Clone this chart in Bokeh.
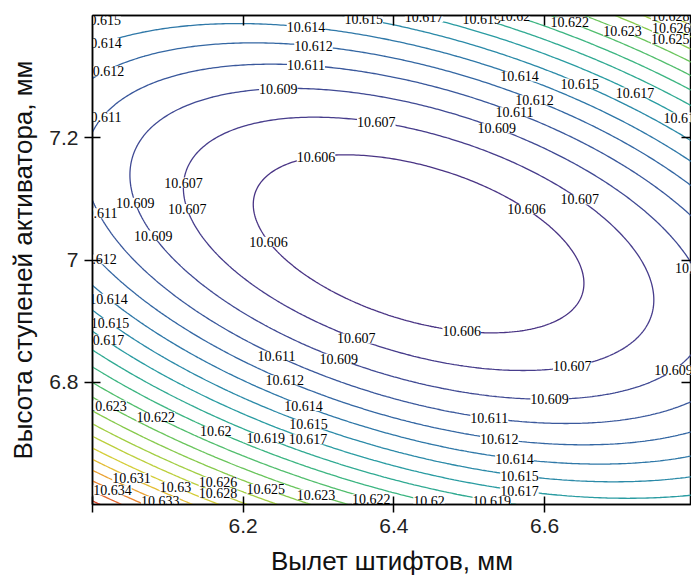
import numpy as np
import contourpy
from bokeh.plotting import figure
from bokeh.models import FixedTicker, LinearAxis, Range1d, ColumnDataSource
from bokeh.embed import file_html
from bokeh.resources import INLINE
from bokeh.core.properties import value

x_title = "Вылет штифтов, мм"
y_title = "Высота ступеней активатора, мм"
x_ticks = [6.0, 6.2, 6.4, 6.6]
y_ticks = [6.8, 7.0, 7.2]

# contour levels (value of the response)
levels = [10.6059, 10.60748, 10.60906, 10.61064, 10.61222, 10.6138, 10.61538,
          10.61696, 10.61854, 10.62012, 10.6217, 10.62328, 10.62486, 10.62644,
          10.62802, 10.6296, 10.63118, 10.63276, 10.63434, 10.63592, 10.6375, 10.63908]
palette = ["#4a3585", "#473d8c", "#404a94", "#3a589c", "#3467a3", "#2f78a8",
           "#2b8aa8", "#2a9ca2", "#30aa92", "#3bb581", "#52be6d", "#6ac55c",
           "#87ca4c", "#a2ce43", "#bccf3c", "#d4cd37", "#e3bd35", "#eaa233",
           "#e88430", "#e2632c", "#d94428", "#cc2a22"]

# contour label readings (x, y on the line, level index)
lab_x = [6.012, 6.012, 6.017, 6.285, 6.293, 6.285, 6.246, 6.015, 6.377, 6.362,
         6.442, 6.517, 6.560, 6.632, 6.701, 6.768, 6.768, 6.766, 6.566, 6.645, 6.718, 6.788, 6.585, 6.560, 6.539,
         6.297, 6.118, 6.058, 6.011, 6.125, 6.079, 6.232, 6.009, 6.023, 6.023,
         6.645, 6.574, 6.788, 6.490,
         6.636, 6.788, 6.605, 6.526, 6.540, 6.560, 6.566, 6.566, 6.446, 6.530,
         6.017, 6.351, 6.244, 6.325, 6.254, 6.021, 6.085, 6.281, 6.285, 6.164, 6.230, 6.285,
         6.052, 6.025, 6.110, 6.166, 6.166, 6.230, 6.297, 6.089, 6.371]
lab_y = [7.390, 7.354, 7.307, 7.382, 7.351, 7.322, 7.282, 7.232, 7.227, 7.400,
         7.400, 7.395, 7.397, 7.387, 7.372, 7.400, 7.379, 7.362, 7.299, 7.286, 7.273, 7.240, 7.261, 7.242, 7.217,
         7.171, 7.127, 7.095, 7.077, 7.082, 7.038, 7.028, 7.003, 6.938, 6.900,
         7.095, 7.080, 6.979, 6.886,
         6.833, 6.789, 6.776, 6.744, 6.709, 6.677, 6.651, 6.624, 6.607, 6.608,
         6.869, 6.869, 6.842, 6.835, 6.801, 6.762, 6.744, 6.760, 6.731, 6.718, 6.709, 6.706,
         6.642, 6.623, 6.629, 6.636, 6.620, 6.626, 6.616, 6.605, 6.607]
lab_k = [6, 5, 4, 5, 4, 3, 2, 3, 1, 6,
         7, 8, 9, 10, 11, 14, 13, 12, 5, 6, 7, 7, 4, 3, 2,
         0, 1, 2, 3, 1, 2, 0, 4, 5, 6,
         1, 0, 2, 0,
         1, 2, 2, 3, 4, 5, 6, 7, 9, 8,
         7, 1, 3, 2, 4, 11, 10, 5, 6, 9, 8, 7,
         16, 18, 15, 13, 14, 12, 11, 17, 10]

# second-order response surface fitted to the readings
lx = np.array(lab_x) - 6.4
ly = np.array(lab_y) - 7.0
lz = np.array([levels[k] for k in lab_k])
A = np.column_stack([np.ones_like(lx), lx, ly, lx * lx, lx * ly, ly * ly])
coef, *_ = np.linalg.lstsq(A, lz, rcond=None)

gx = np.linspace(6.0, 6.8, 241)
gy = np.linspace(6.6, 7.4, 241)
GX, GY = np.meshgrid(gx - 6.4, gy - 7.0)
Z = (coef[0] + coef[1] * GX + coef[2] * GY + coef[3] * GX * GX
     + coef[4] * GX * GY + coef[5] * GY * GY)

p = figure(width=691, height=578, x_range=Range1d(6.0, 6.795), y_range=Range1d(6.6, 7.4),
           output_backend="svg", toolbar_location=None,
           min_border_left=92, min_border_right=0, min_border_top=15, min_border_bottom=73,
           x_axis_label=x_title, y_axis_label=y_title)
p.xgrid.visible = False
p.ygrid.visible = False
p.outline_line_color = "black"
p.outline_line_width = 1.5
p.background_fill_color = "white"
p.border_fill_color = "white"

p.contour(gx, gy, Z, levels=levels, line_color=palette, line_width=1.3)

# snap label anchors onto their contour
gen = contourpy.contour_generator(gx, gy, Z, line_type="Separate")
sx, sy, st = [], [], []
for xv, yv, k in zip(lab_x, lab_y, lab_k):
    best = None
    for seg in gen.lines(levels[k]):
        d = ((seg[:, 0] - xv) * 755) ** 2 + ((seg[:, 1] - yv) * 612) ** 2
        j = int(np.argmin(d))
        if best is None or d[j] < best[0]:
            best = (d[j], seg[j, 0], seg[j, 1])
    if best is not None and best[0] < 40 ** 2:
        xv, yv = best[1], best[2]
    sx.append(xv)
    sy.append(yv)
    st.append(("%.3f" % levels[k]).rstrip("0").rstrip("."))
src = ColumnDataSource(dict(x=sx, y=sy, t=st))
p.text(x="x", y="y", text="t", source=src, text_font=value("Liberation Serif"),
       text_font_size="14px", text_align="center", text_baseline="middle",
       text_color="black", background_fill_color="white")

for ax, ticks in ((p.xaxis[0], x_ticks), (p.yaxis[0], y_ticks)):
    ax.ticker = FixedTicker(ticks=ticks)
    ax.major_tick_in = 8
    ax.major_tick_out = 8
    ax.minor_tick_in = 0
    ax.minor_tick_out = 0
    ax.axis_line_color = "black"
    ax.axis_line_width = 1.5
    ax.major_tick_line_color = "black"
    ax.major_tick_line_width = 1.5
    ax.major_label_text_font = "Liberation Sans"
    ax.major_label_text_font_size = "21px"
    ax.major_label_text_color = "#222222"
    ax.axis_label_text_font = "Liberation Sans"
    ax.axis_label_text_font_size = "26px"
    ax.axis_label_text_font_style = "normal"
    ax.axis_label_text_color = "#111111"
p.xaxis[0].major_label_overrides = {6.0: ""}
p.yaxis[0].major_label_overrides = {7.0: "7"}
p.xaxis[0].major_label_standoff = 6
p.xaxis[0].axis_label_standoff = 10
p.yaxis[0].major_label_standoff = 6
p.yaxis[0].axis_label_standoff = 8

top = LinearAxis(ticker=FixedTicker(ticks=x_ticks[1:]), major_label_text_font_size="0px",
                 major_tick_in=10, major_tick_out=0, minor_tick_in=0, minor_tick_out=0,
                 major_label_standoff=0, axis_line_color="black", axis_line_width=1.5,
                 major_tick_line_color="black", major_tick_line_width=1.5)
top.major_label_overrides = {t: "" for t in x_ticks[1:]}
p.add_layout(top, "above")
right = LinearAxis(ticker=FixedTicker(ticks=y_ticks), major_label_text_font_size="0px",
                   major_tick_in=10, major_tick_out=0, minor_tick_in=0, minor_tick_out=0,
                   major_label_standoff=0, axis_line_color="black", axis_line_width=1.5,
                   major_tick_line_color="black", major_tick_line_width=1.5)
right.major_label_overrides = {t: "" for t in y_ticks}
p.add_layout(right, "right")

open("out.html", "w").write(file_html(p, INLINE))
